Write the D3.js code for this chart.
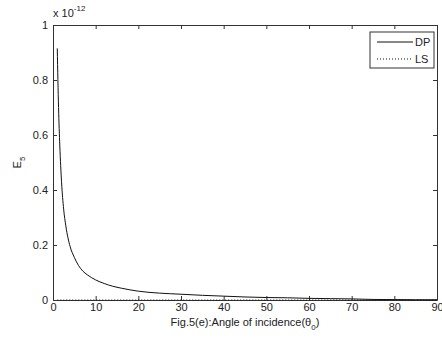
<!DOCTYPE html>
<html>
<head>
<meta charset="utf-8">
<script src="https://cdn.jsdelivr.net/npm/d3@7"></script>
<style>
  body { margin: 0; background: #fff; }
  svg { display: block; font-family: "Liberation Sans", Arial, sans-serif; }
  .axis text { font-size: 11px; fill: #222; }
  .axis path, .axis line { stroke: #333; }
</style>
</head>
<body>
<svg id="chart"></svg>
<script>
const WIDTH = 442;
const HEIGHT = 343;
const M = { left: 53, top: 25, right: 5, bottom: 43 }; // axes box
const PW = WIDTH - M.left - M.right;
const PH = HEIGHT - M.top - M.bottom;

// angle of incidence (deg) and E5 (x 1e-12)
const theta = [1, 1.3, 1.6, 2, 2.5, 3, 4, 5, 6, 7, 8, 10, 12, 14, 16, 18, 20, 25, 30, 35, 40, 45, 50, 55, 60, 65, 70, 75, 80, 85, 90];
const dpValues = [0.915, 0.70, 0.56, 0.43, 0.33, 0.27, 0.195, 0.155, 0.125, 0.105, 0.092, 0.073, 0.06, 0.05, 0.043, 0.037, 0.032, 0.025, 0.021, 0.017, 0.014, 0.011, 0.009, 0.008, 0.006, 0.005, 0.004, 0.002, 0.0015, 0.001, 0.001];
const lsValues = theta.map(() => 0); // LS stays at zero
const xTicks = [0, 10, 20, 30, 40, 50, 60, 70, 80, 90];
const yTicks = [0, 0.2, 0.4, 0.6, 0.8, 1];

const svg = d3.select("#chart").attr("width", WIDTH).attr("height", HEIGHT);
const g = svg.append("g").attr("transform", "translate(" + M.left + "," + M.top + ")");

const x = d3.scaleLinear().domain([0, 90]).range([0, PW]);
const y = d3.scaleLinear().domain([0, 1]).range([PH, 0]);

// bottom / left axes with inward ticks
g.append("g").attr("class", "axis").attr("transform", "translate(0," + PH + ")")
  .call(d3.axisBottom(x).tickValues(xTicks).tickFormat(d3.format("d")).tickSizeInner(-4).tickSizeOuter(0).tickPadding(3));
g.append("g").attr("class", "axis")
  .call(d3.axisLeft(y).tickValues(yTicks).tickFormat(d => d === 0 || d === 1 ? d : d3.format(".1f")(d)).tickSizeInner(-4).tickSizeOuter(0).tickPadding(5));
// top / right mirror ticks
g.append("g").attr("class", "axis")
  .call(d3.axisTop(x).tickValues(xTicks).tickFormat("").tickSizeInner(-4).tickSizeOuter(0));
g.append("g").attr("class", "axis").attr("transform", "translate(" + PW + ",0)")
  .call(d3.axisRight(y).tickValues(yTicks).tickFormat("").tickSizeInner(-4).tickSizeOuter(0));

const line = d3.line().x((d, i) => x(theta[i])).y(d => y(d)).curve(d3.curveMonotoneX);

g.append("path").datum(lsValues).attr("d", line)
  .attr("fill", "none").attr("stroke", "#111").attr("stroke-width", 1).attr("stroke-dasharray", "1,2");
g.append("path").datum(dpValues).attr("d", line)
  .attr("fill", "none").attr("stroke", "#111").attr("stroke-width", 1);

// exponent label
const ex = svg.append("text").attr("x", M.left).attr("y", 17).attr("font-size", 11).attr("fill", "#222");
ex.append("tspan").text("x 10");
ex.append("tspan").attr("dy", -6).attr("font-size", 8).text("-12");

// x label
const xl = svg.append("text").attr("x", M.left + PW / 2).attr("y", 326)
  .attr("text-anchor", "middle").attr("font-size", 11).attr("fill", "#222");
xl.append("tspan").text("Fig.5(e):Angle of incidence(θ");
xl.append("tspan").attr("dy", 4).attr("font-size", 8).text("0");
xl.append("tspan").attr("dy", -4).text(")");

// y label
const yl = svg.append("text").attr("transform", "translate(21," + (M.top + PH / 2) + ") rotate(-90)")
  .attr("text-anchor", "middle").attr("font-size", 11).attr("fill", "#222");
yl.append("tspan").text("E");
yl.append("tspan").attr("dy", 4).attr("font-size", 8).text("5");

// legend
const lg = svg.append("g").attr("transform", "translate(370,32)");
lg.append("rect").attr("width", 64).attr("height", 36).attr("fill", "#fff").attr("stroke", "#333");
const items = [{ name: "DP", dash: null }, { name: "LS", dash: "1,2" }];
items.forEach((it, i) => {
  const yy = 10 + i * 17;
  lg.append("line").attr("x1", 7).attr("x2", 43).attr("y1", yy).attr("y2", yy)
    .attr("stroke", "#111").attr("stroke-dasharray", it.dash);
  lg.append("text").attr("x", 45).attr("y", yy + 4).attr("font-size", 11).attr("fill", "#222").text(it.name);
});
</script>
</body>
</html>
